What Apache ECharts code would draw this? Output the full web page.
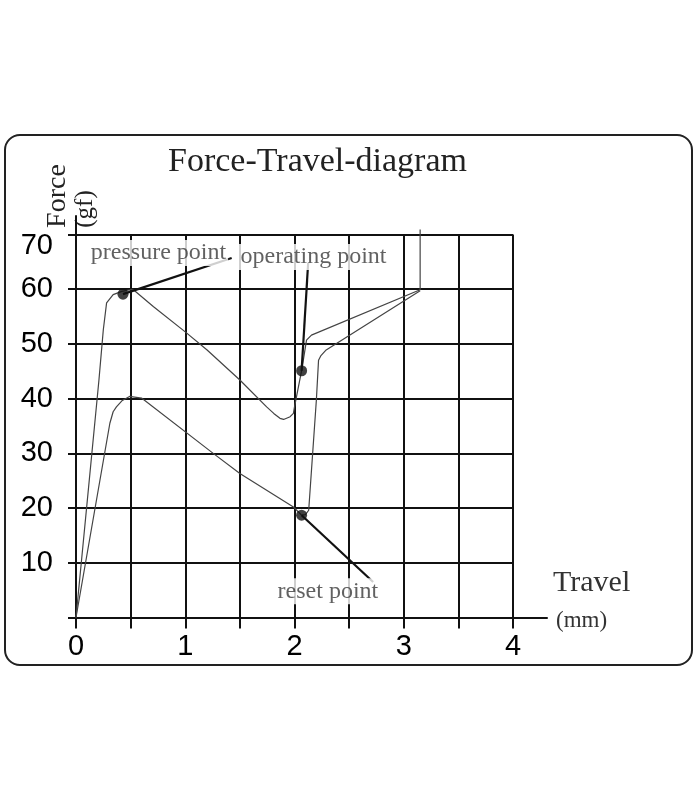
<!DOCTYPE html>
<html>
<head>
<meta charset="utf-8">
<script src="https://cdn.jsdelivr.net/npm/echarts@6/dist/echarts.min.js"></script>
<style>html,body{margin:0;padding:0;background:#fff}#c{width:700px;height:800px}</style>
</head>
<body>
<div id="c"></div>
<script>
// ---- data ----
const titleText = 'Force-Travel-diagram';
const xTicks = [0, 1, 2, 3, 4];
const yTicks = [10, 20, 30, 40, 50, 60, 70];
// press stroke (travel mm, force gf)
const pressCurve = [
  [0, 0], [0.21, 43.4], [0.25, 52.6], [0.28, 57.5], [0.34, 59.0], [0.42, 59.6], [0.52, 60],
  [0.71, 56.8], [1.0, 52.2], [1.2, 48.9], [1.5, 43.4], [1.745, 38.5], [1.81, 37.3],
  [1.867, 36.4], [1.9, 36.2], [1.96, 36.7], [1.99, 37.3], [2.0, 38.5], [2.066, 45.2],
  [2.11, 50.7], [2.155, 51.6], [3.15, 59.9], [3.15, 70.9]
];
// return stroke
const releaseCurve = [
  [3.15, 59.7], [2.29, 48.9], [2.24, 47.8], [2.22, 47.0], [2.2, 39.7], [2.13, 19.6],
  [2.1, 18.8], [2.065, 18.7], [1.99, 20.2], [1.5, 26.3], [1.256, 30.0],
  [0.6, 40.1], [0.49, 40.4], [0.42, 39.6], [0.37, 38.5], [0.34, 37.6], [0.31, 35.5], [0, 0]
];
const keyPoints = [[0.43, 59.1], [2.065, 45.1], [2.065, 18.7]];
const leaderEnds = [[1.425, 65.7], [2.125, 64.8], [2.72, 6.5]];
const pointNames = ['pressure point', 'operating point', 'reset point'];
const labelAnchors = [[0.755, 66.6], [2.174, 65.9], [2.306, 4.8]];

// ---- chart ----
const chart = echarts.init(document.getElementById('c'), null, {renderer: 'canvas'});
const serif = 'Liberation Serif';
const sans = 'Liberation Sans';
const ink = '#111';

const leaderSeries = keyPoints.map((p, i) => ({
  type: 'line', xAxisIndex: 0, yAxisIndex: 0, data: [p, leaderEnds[i]],
  symbol: 'none', lineStyle: {color: ink, width: 2.2}, z: 4, silent: true, clip: false
}));

chart.setOption({
  animation: false,
  backgroundColor: '#fff',
  title: {
    text: titleText, left: 163, top: 140,
    textStyle: {fontFamily: serif, fontSize: 34, fontWeight: 'normal', color: '#222'}
  },
  grid: [
    {left: 76, top: 234.5, width: 437, height: 383},
    {left: 76, top: 216, width: 471, height: 401.5}
  ],
  xAxis: [
    {
      type: 'value', gridIndex: 0, min: 0, max: 4, interval: 0.5,
      axisLine: {show: true, lineStyle: {color: ink, width: 2}},
      axisTick: {show: true, length: 11, inside: false, lineStyle: {color: ink, width: 2}},
      splitLine: {show: true, lineStyle: {color: ink, width: 2}},
      axisLabel: {
        show: true, margin: 15, fontFamily: sans, fontSize: 29, color: '#000',
        formatter: v => (xTicks.indexOf(v) >= 0 ? String(v) : '')
      }
    },
    {
      type: 'value', gridIndex: 1, min: 0, max: 4.31,
      axisLine: {show: true, lineStyle: {color: ink, width: 2}},
      axisTick: {show: false}, splitLine: {show: false}, axisLabel: {show: false}
    }
  ],
  yAxis: [
    {
      type: 'value', gridIndex: 0, min: 0, max: 70, interval: 10,
      axisLine: {show: true, lineStyle: {color: ink, width: 2}},
      axisTick: {show: true, length: 8, inside: false, lineStyle: {color: ink, width: 2}},
      splitLine: {show: true, lineStyle: {color: ink, width: 2}},
      axisLabel: {
        show: true, margin: 23, fontFamily: sans, fontSize: 29, color: '#000',
        formatter: v => (yTicks.indexOf(v) < 0 ? '' : (v === 70 ? '{top|' + v + '}' : String(v))),
        rich: {top: {fontFamily: sans, fontSize: 29, color: '#000', padding: [22, 0, 0, 0]}}
      }
    },
    {
      type: 'value', gridIndex: 1, min: 0, max: 73.4,
      axisLine: {show: true, lineStyle: {color: ink, width: 2}},
      axisTick: {show: false}, splitLine: {show: false}, axisLabel: {show: false}
    }
  ],
  graphic: [
    {type: 'rect', shape: {x: 5, y: 135, width: 687, height: 530, r: 15},
     style: {fill: 'none', stroke: '#222', lineWidth: 2}, z: -1, silent: true},
    {type: 'text', x: 58, y: 196, rotation: Math.PI / 2,
     style: {text: 'Force', font: '28px "Liberation Serif"', fill: '#222', align: 'center', verticalAlign: 'middle'}},
    {type: 'text', x: 85, y: 209, rotation: Math.PI / 2,
     style: {text: '(gf)', font: '25px "Liberation Serif"', fill: '#222', align: 'center', verticalAlign: 'middle'}},
    {type: 'text', x: 553, y: 583,
     style: {text: 'Travel', font: '30px "Liberation Serif"', fill: '#333', align: 'left', verticalAlign: 'middle'}},
    {type: 'text', x: 556, y: 621,
     style: {text: '(mm)', font: '23px "Liberation Serif"', fill: '#333', align: 'left', verticalAlign: 'middle'}}
  ],
  series: [
    {type: 'line', name: 'press', data: pressCurve, symbol: 'none', clip: false,
     lineStyle: {color: '#444', width: 1.2}, z: 3, silent: true},
    {type: 'line', name: 'release', data: releaseCurve, symbol: 'none', clip: false,
     lineStyle: {color: '#444', width: 1.2}, z: 3, silent: true}
  ].concat(leaderSeries).concat([
    {type: 'scatter', data: keyPoints, symbol: 'circle', symbolSize: 11,
     itemStyle: {color: '#111'}, z: 5, silent: true},
    {type: 'scatter', data: labelAnchors.map((p, i) => ({value: p, name: pointNames[i]})),
     symbolSize: 1, itemStyle: {color: 'rgba(0,0,0,0)'}, z: 6, silent: true, clip: false,
     label: {show: true, position: 'inside', formatter: p => p.name,
       fontFamily: serif, fontSize: 24, color: '#3a3a3a', backgroundColor: '#fff', padding: [1, 2]}}
  ])
});
</script>
</body>
</html>
